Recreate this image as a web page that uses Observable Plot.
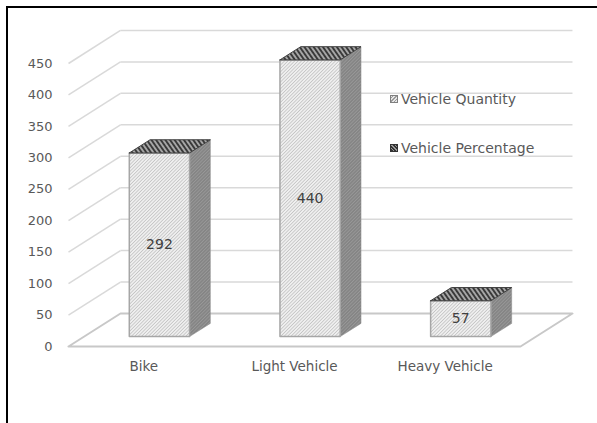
<!DOCTYPE html>
<html>
<head>
<meta charset="utf-8">
<script src="https://cdn.jsdelivr.net/npm/d3@7"></script>
<script src="https://cdn.jsdelivr.net/npm/@observablehq/plot@0.6"></script>
<style>
  body { margin: 0; background: #fff; font-family: "DejaVu Sans", sans-serif; }
  #wrap { position: relative; width: 597px; height: 423px; overflow: hidden; background: #fff; }
  #frame { position: absolute; left: 6px; top: 6px; width: 700px; height: 600px;
           border-left: 2px solid #000; border-top: 2px solid #000; pointer-events: none; }
  .leg { position: absolute; left: 390px; font-size: 14px; line-height: 18px; color: #595959;
         display: flex; align-items: center; white-space: nowrap; }
  .sw { width: 6px; height: 6px; margin-right: 3px; border: 1px solid #7f7f7f; }
  .sw.q { background: repeating-linear-gradient(-45deg, #e6e6e6 0 1.5px, #9a9a9a 1.5px 2.5px); }
  .sw.p { background: repeating-linear-gradient(45deg, #333 0 1.5px, #9a9a9a 1.5px 2.5px); border-color:#333; }
</style>
</head>
<body>
<div id="wrap">
  <div id="chart"></div>
  <div id="frame"></div>
  <div id="legend"></div>
</div>
<script>
// ---- data ----
const categories = ["Bike", "Light Vehicle", "Heavy Vehicle"];
const quantity = [292, 440, 57];
const yTicks = [0, 50, 100, 150, 200, 250, 300, 350, 400, 450];
const seriesNames = ["Vehicle Quantity", "Vehicle Percentage"];

// ---- oblique 3D projection (style constants) ----
const BAR_W = 0.4;            // bar width, category units
const KX = 0.345, KY = 52.5;  // full depth vector in data units
const D0 = 0.3, D1 = 0.7;     // bar depth range
const proj = (x, y, d) => ({x: x + d * KX, y: y + d * KY});
const xMin = -0.5, xMax = categories.length - 0.5;

function poly(id, pts) {
  const out = pts.map(([x, y, d]) => ({id, ...proj(x, y, d)}));
  out.push({...out[0]});
  return out;
}

const frontFaces = categories.flatMap((c, i) => {
  const q = quantity[i], a = i - BAR_W / 2, b = i + BAR_W / 2;
  return poly(c, [[a, 0, D0], [b, 0, D0], [b, q, D0], [a, q, D0]]);
});
const sideFaces = categories.flatMap((c, i) => {
  const q = quantity[i], b = i + BAR_W / 2;
  return poly(c, [[b, 0, D0], [b, 0, D1], [b, q, D1], [b, q, D0]]);
});
const topFaces = categories.flatMap((c, i) => {
  const q = quantity[i], a = i - BAR_W / 2, b = i + BAR_W / 2;
  return poly(c, [[a, q, D0], [b, q, D0], [b, q, D1], [a, q, D1]]);
});
const floorPoly = poly("floor", [[xMin, 0, 0], [xMax, 0, 0], [xMax, 0, 1], [xMin, 0, 1]]);
const gridTicks = yTicks.filter(t => t > 0);

const svg = Plot.plot({
  width: 597,
  height: 423,
  marginLeft: 68,
  marginRight: 77,
  marginTop: 63,
  marginBottom: 77,
  style: {fontFamily: "'DejaVu Sans', sans-serif", fontSize: "13px", color: "#595959", background: "#fff"},
  x: {domain: [xMin, xMax], label: null},
  y: {domain: [0, 450], label: null},
  marks: [
    Plot.link(gridTicks, {x1: xMin + KX, x2: xMax + KX, y1: t => t + KY, y2: t => t + KY,
      stroke: "#d9d9d9", strokeWidth: 1.5}),
    Plot.link(gridTicks, {x1: xMin, x2: xMin + KX, y1: t => t, y2: t => t + KY,
      stroke: "#d9d9d9", strokeWidth: 1.5}),
    Plot.line(floorPoly, {x: "x", y: "y", z: "id", stroke: "#c8c8c8", strokeWidth: 2, fill: "none"}),
    Plot.line(sideFaces, {x: "x", y: "y", z: "id", fill: "url(#sideHatch)", stroke: "#8a8a8a", strokeWidth: 0.5}),
    Plot.line(frontFaces, {x: "x", y: "y", z: "id", fill: "url(#frontHatch)", stroke: "#a6a6a6", strokeWidth: 1.5}),
    Plot.line(topFaces, {x: "x", y: "y", z: "id", fill: "url(#topHatch)", stroke: "#404040", strokeWidth: 1}),
    Plot.text(quantity, {x: (d, i) => i + D0 * KX, y: d => d / 2 + D0 * KY, text: d => String(d),
      fill: "#404040", fontSize: 14}),
    Plot.axisY({ticks: yTicks, tickSize: 0, tickPadding: 16, fontSize: 13, fill: "#595959", label: null}),
    Plot.axisX({ticks: categories.map((c, i) => i), tickFormat: i => categories[i],
      tickSize: 0, tickPadding: 15, fontSize: 13.5, fill: "#595959", label: null})
  ]
});

const defs = d3.select(svg).insert("defs", ":first-child");
function hatch(id, size, bg, fg, sw, angle) {
  const p = defs.append("pattern").attr("id", id)
    .attr("patternUnits", "userSpaceOnUse")
    .attr("width", size).attr("height", size)
    .attr("patternTransform", `rotate(${angle})`);
  p.append("rect").attr("width", size).attr("height", size).attr("fill", bg);
  p.append("line").attr("x1", size / 2).attr("y1", 0).attr("x2", size / 2).attr("y2", size)
    .attr("stroke", fg).attr("stroke-width", sw);
}
hatch("frontHatch", 2.4, "#f2f2f2", "#c4c4c4", 0.9, 45);
hatch("sideHatch", 2.4, "#848484", "#999999", 0.9, 45);
hatch("topHatch", 3.8, "#a6a6a6", "#333333", 1.8, -35);

document.getElementById("chart").appendChild(svg);

const legendTops = [90, 139];
const leg = document.getElementById("legend");
seriesNames.forEach((name, i) => {
  const row = document.createElement("div");
  row.className = "leg";
  row.style.top = legendTops[i] + "px";
  row.innerHTML = `<span class="sw ${i === 0 ? "q" : "p"}"></span><span>${name}</span>`;
  leg.appendChild(row);
});
</script>
</body>
</html>
